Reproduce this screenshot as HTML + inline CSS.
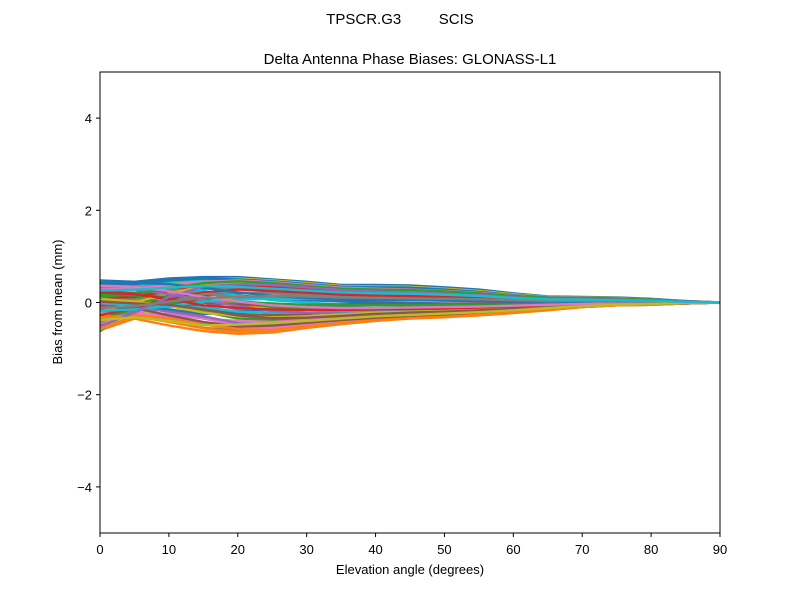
<!DOCTYPE html>
<html><head><meta charset="utf-8"><style>body{margin:0;background:#fff}svg{display:block}text{font-family:"Liberation Sans","DejaVu Sans",sans-serif;fill:#000}</style></head>
<body>
<svg id="chart" width="800" height="600">
<rect width="800" height="600" fill="#fff"/>
<text x="400" y="24" text-anchor="middle" font-size="15" xml:space="preserve">TPSCR.G3         SCIS</text>
<text x="410" y="64" text-anchor="middle" font-size="15">Delta Antenna Phase Biases: GLONASS-L1</text>
<g id="lines"></g>
<rect x="100" y="72" width="620" height="461" fill="none" stroke="#000" stroke-width="1"/>
<g id="xt"></g>
<g id="yt"></g>
<text x="410" y="574" text-anchor="middle" font-size="13">Elevation angle (degrees)</text>
<text transform="translate(62,302) rotate(-90)" text-anchor="middle" font-size="13">Bias from mean (mm)</text>
</svg>
<script>
const elevations=[0,5,10,15,20,25,30,35,40,45,50,55,60,65,70,75,80,85,90];
const xTicks=[0,10,20,30,40,50,60,70,80,90];
const yTicks=[-4,-2,0,2,4];
const yTickLabels=["\u22124","\u22122","0","2","4"];
const series=[
[0.48,0.45,0.52,0.55,0.55,0.50,0.45,0.38,0.38,0.37,0.33,0.28,0.20,0.13,0.12,0.11,0.08,0.03,0],
[-0.60,-0.35,-0.50,-0.62,-0.68,-0.65,-0.55,-0.47,-0.40,-0.35,-0.32,-0.28,-0.23,-0.17,-0.10,-0.06,-0.05,-0.02,0],
[-0.62,-0.10,0.25,0.45,0.50,0.45,0.38,0.30,0.28,0.26,0.22,0.18,0.12,0.09,0.08,0.07,0.05,0.02,0],
[-0.50,-0.05,0.30,0.40,0.42,0.38,0.32,0.25,0.22,0.20,0.17,0.14,0.10,0.07,0.06,0.05,0.04,0.01,0],
[0.40,0.35,0.20,0.00,-0.15,-0.25,-0.30,-0.32,-0.30,-0.28,-0.25,-0.22,-0.18,-0.13,-0.08,-0.05,-0.04,-0.01,0],
[0.30,0.25,0.10,-0.10,-0.30,-0.40,-0.42,-0.38,-0.33,-0.30,-0.27,-0.23,-0.19,-0.14,-0.09,-0.05,-0.04,-0.02,0],
[0.10,0.05,-0.15,-0.35,-0.50,-0.52,-0.48,-0.42,-0.36,-0.32,-0.29,-0.25,-0.20,-0.15,-0.09,-0.06,-0.04,-0.02,0],
[-0.20,-0.25,-0.40,-0.55,-0.60,-0.58,-0.50,-0.44,-0.38,-0.34,-0.30,-0.26,-0.21,-0.16,-0.10,-0.06,-0.05,-0.02,0],
[0.20,0.25,0.40,0.50,0.52,0.48,0.42,0.36,0.35,0.34,0.30,0.25,0.18,0.12,0.11,0.10,0.07,0.03,0],
[0.35,0.38,0.45,0.50,0.45,0.40,0.35,0.30,0.28,0.26,0.23,0.19,0.14,0.10,0.09,0.08,0.06,0.02,0],
[-0.30,0.00,0.15,0.20,0.15,0.10,0.05,0.02,0.00,-0.01,-0.02,-0.02,-0.02,-0.01,-0.01,0.00,0.00,0.00,0],
[0.00,0.05,0.10,0.05,-0.05,-0.10,-0.12,-0.13,-0.13,-0.12,-0.11,-0.10,-0.08,-0.06,-0.04,-0.02,-0.02,-0.01,0],
[0.15,0.10,0.00,-0.20,-0.35,-0.38,-0.35,-0.30,-0.25,-0.22,-0.20,-0.17,-0.14,-0.10,-0.06,-0.04,-0.03,-0.01,0],
[-0.10,-0.05,0.05,0.15,0.20,0.22,0.20,0.16,0.14,0.13,0.11,0.09,0.06,0.04,0.04,0.03,0.02,0.01,0],
[-0.40,-0.20,0.10,0.30,0.35,0.32,0.28,0.22,0.18,0.16,0.14,0.12,0.08,0.06,0.05,0.04,0.03,0.01,0],
[0.25,0.20,0.05,-0.15,-0.25,-0.28,-0.25,-0.20,-0.17,-0.15,-0.13,-0.11,-0.09,-0.07,-0.04,-0.03,-0.02,-0.01,0],
[-0.25,-0.20,-0.25,-0.35,-0.40,-0.42,-0.38,-0.33,-0.28,-0.25,-0.22,-0.19,-0.15,-0.11,-0.07,-0.04,-0.03,-0.01,0],
[0.05,0.08,0.20,0.30,0.30,0.28,0.25,0.20,0.18,0.17,0.15,0.12,0.09,0.06,0.06,0.05,0.04,0.01,0],
[-0.55,-0.30,-0.10,0.05,0.10,0.12,0.12,0.10,0.09,0.08,0.07,0.06,0.04,0.03,0.03,0.02,0.02,0.00,0],
[0.45,0.40,0.35,0.25,0.15,0.05,0.00,-0.05,-0.06,-0.07,-0.07,-0.07,-0.06,-0.05,-0.03,-0.02,-0.01,0.00,0],
[-0.15,-0.10,-0.15,-0.25,-0.20,-0.15,-0.10,-0.08,-0.06,-0.05,-0.05,-0.04,-0.03,-0.02,-0.02,-0.01,-0.01,0.00,0],
[0.30,0.32,0.35,0.40,0.38,0.35,0.30,0.28,0.25,0.24,0.21,0.17,0.12,0.08,0.08,0.07,0.05,0.02,0],
[-0.35,-0.15,0.00,0.10,0.00,-0.10,-0.15,-0.18,-0.18,-0.17,-0.16,-0.14,-0.11,-0.08,-0.05,-0.03,-0.02,-0.01,0],
[0.10,0.12,0.25,0.35,0.38,0.35,0.30,0.25,0.22,0.20,0.18,0.15,0.11,0.08,0.07,0.06,0.05,0.02,0],
[-0.05,-0.10,-0.20,-0.30,-0.45,-0.48,-0.45,-0.38,-0.32,-0.28,-0.25,-0.22,-0.18,-0.13,-0.08,-0.05,-0.04,-0.02,0],
[0.20,0.15,0.10,0.00,-0.05,-0.05,-0.05,-0.04,-0.03,-0.03,-0.03,-0.02,-0.02,-0.01,-0.01,0.00,0.00,0.00,0],
[-0.45,-0.25,-0.30,-0.45,-0.55,-0.55,-0.48,-0.42,-0.36,-0.31,-0.28,-0.24,-0.19,-0.14,-0.09,-0.05,-0.04,-0.02,0],
[0.38,0.35,0.30,0.20,0.10,0.08,0.08,0.06,0.06,0.06,0.05,0.04,0.03,0.02,0.02,0.01,0.01,0.00,0],
[-0.20,0.00,0.20,0.35,0.45,0.45,0.40,0.34,0.32,0.30,0.26,0.22,0.16,0.11,0.10,0.09,0.07,0.03,0],
[0.00,-0.05,-0.10,-0.10,-0.20,-0.22,-0.22,-0.20,-0.18,-0.16,-0.14,-0.12,-0.10,-0.07,-0.05,-0.03,-0.02,-0.01,0],
[0.42,0.40,0.48,0.52,0.50,0.46,0.40,0.34,0.33,0.32,0.28,0.23,0.16,0.11,0.10,0.09,0.07,0.03,0],
[-0.58,-0.30,-0.42,-0.56,-0.64,-0.62,-0.52,-0.45,-0.38,-0.33,-0.30,-0.26,-0.21,-0.16,-0.10,-0.06,-0.04,-0.02,0],
[0.18,0.15,0.12,0.08,0.02,-0.02,-0.05,-0.06,-0.06,-0.06,-0.05,-0.05,-0.04,-0.03,-0.02,-0.01,-0.01,0.00,0],
[-0.28,-0.12,0.05,0.22,0.28,0.26,0.22,0.18,0.15,0.14,0.12,0.10,0.07,0.05,0.04,0.04,0.03,0.01,0],
[0.32,0.28,0.18,0.05,-0.08,-0.18,-0.22,-0.24,-0.23,-0.21,-0.19,-0.17,-0.14,-0.10,-0.06,-0.04,-0.03,-0.01,0],
[-0.08,-0.12,-0.28,-0.42,-0.52,-0.50,-0.44,-0.38,-0.33,-0.29,-0.26,-0.22,-0.18,-0.13,-0.08,-0.05,-0.04,-0.02,0],
[0.28,0.30,0.38,0.45,0.48,0.44,0.38,0.32,0.30,0.28,0.25,0.21,0.15,0.10,0.09,0.08,0.06,0.02,0],
[-0.42,-0.18,0.02,0.18,0.22,0.20,0.16,0.12,0.10,0.09,0.08,0.07,0.05,0.03,0.03,0.02,0.02,0.01,0],
[0.08,0.02,-0.08,-0.22,-0.30,-0.32,-0.30,-0.26,-0.22,-0.20,-0.18,-0.15,-0.12,-0.09,-0.06,-0.03,-0.02,-0.01,0],
[-0.18,-0.15,-0.08,0.02,0.06,0.08,0.08,0.07,0.06,0.06,0.05,0.04,0.03,0.02,0.02,0.01,0.01,0.00,0],
[0.44,0.42,0.40,0.32,0.22,0.14,0.10,0.06,0.05,0.05,0.04,0.03,0.02,0.02,0.01,0.01,0.01,0.00,0],
[-0.32,-0.28,-0.35,-0.48,-0.58,-0.60,-0.52,-0.45,-0.39,-0.34,-0.31,-0.27,-0.22,-0.16,-0.10,-0.06,-0.05,-0.02,0],
[0.12,0.18,0.30,0.42,0.46,0.42,0.36,0.30,0.28,0.27,0.24,0.20,0.14,0.10,0.09,0.08,0.06,0.02,0],
[0.22,0.18,0.08,-0.06,-0.12,-0.15,-0.16,-0.16,-0.15,-0.14,-0.13,-0.11,-0.09,-0.07,-0.04,-0.03,-0.02,-0.01,0],
[-0.52,-0.22,0.12,0.35,0.40,0.38,0.33,0.27,0.24,0.22,0.19,0.16,0.11,0.08,0.07,0.06,0.04,0.02,0],
[0.02,-0.02,-0.05,-0.15,-0.28,-0.34,-0.33,-0.29,-0.25,-0.22,-0.20,-0.17,-0.14,-0.10,-0.06,-0.04,-0.03,-0.01,0],
[0.36,0.34,0.25,0.12,0.02,-0.06,-0.10,-0.12,-0.12,-0.11,-0.10,-0.09,-0.07,-0.05,-0.03,-0.02,-0.01,0.00,0],
[-0.12,-0.08,0.02,0.10,0.12,0.14,0.13,0.11,0.10,0.09,0.08,0.07,0.05,0.03,0.03,0.02,0.02,0.00,0],
[-0.38,-0.32,-0.40,-0.50,-0.48,-0.45,-0.40,-0.35,-0.30,-0.27,-0.24,-0.21,-0.17,-0.12,-0.08,-0.05,-0.03,-0.01,0],
[0.26,0.28,0.32,0.36,0.34,0.30,0.26,0.22,0.20,0.19,0.17,0.14,0.10,0.07,0.06,0.05,0.04,0.01,0]
];
const colors=["#1f77b4","#ff7f0e","#2ca02c","#d62728","#9467bd","#8c564b","#e377c2","#7f7f7f","#bcbd22","#17becf"];
const NS="http://www.w3.org/2000/svg";
const X0=100,X1=720,Y0=533,Y1=72;
function xs(v){return X0+(v-0)/(90-0)*(X1-X0);}
function ys(v){return Y0-(v+5)/10*(Y0-Y1);}
const lg=document.getElementById('lines');
series.forEach((s,i)=>{
  const p=document.createElementNS(NS,'polyline');
  p.setAttribute('points',s.map((v,j)=>xs(elevations[j]).toFixed(1)+','+ys(v).toFixed(1)).join(' '));
  p.setAttribute('fill','none');
  p.setAttribute('stroke',colors[i%colors.length]);
  p.setAttribute('stroke-width','2.4');
  p.setAttribute('stroke-linejoin','round');
  
  
  lg.appendChild(p);
});
const xt=document.getElementById('xt');
xTicks.forEach(t=>{
  const l=document.createElementNS(NS,'line');
  l.setAttribute('x1',xs(t));l.setAttribute('x2',xs(t));l.setAttribute('y1',533);l.setAttribute('y2',537);l.setAttribute('stroke','#000');
  
  
  xt.appendChild(l);
  const tx=document.createElementNS(NS,'text');
  tx.setAttribute('x',xs(t));tx.setAttribute('y',554);tx.setAttribute('text-anchor','middle');tx.setAttribute('font-size','13');
  tx.textContent=t;
  
  
  xt.appendChild(tx);
});
const yt=document.getElementById('yt');
yTicks.forEach((t,i)=>{
  const l=document.createElementNS(NS,'line');
  l.setAttribute('x1',96);l.setAttribute('x2',100);l.setAttribute('y1',ys(t));l.setAttribute('y2',ys(t));l.setAttribute('stroke','#000');
  
  
  yt.appendChild(l);
  const tx=document.createElementNS(NS,'text');
  tx.setAttribute('x',92);tx.setAttribute('y',ys(t)+5);tx.setAttribute('text-anchor','end');tx.setAttribute('font-size','13');
  tx.textContent=yTickLabels[i];
  
  
  yt.appendChild(tx);
});
</script>
</body></html>
